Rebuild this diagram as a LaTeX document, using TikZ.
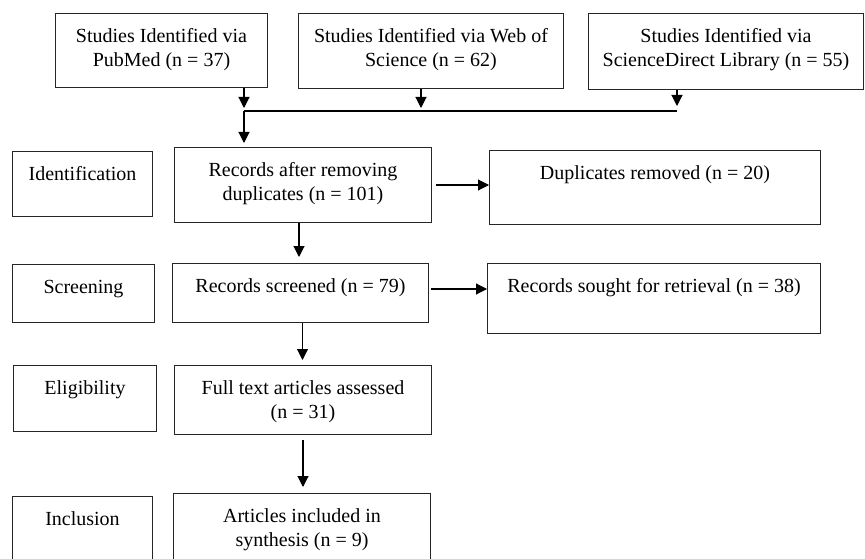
\documentclass[tikz,border=0pt]{standalone}
\usepackage{fontspec}
\setmainfont{Liberation Serif}
\usetikzlibrary{arrows.meta}
\newcommand{\bt}[3]{\parbox[t][#2][t]{#1}{\centering\rule{0pt}{29pt}#3\par}}
\tikzset{
  box/.style={draw=black!85, line width=1pt, inner sep=0pt, anchor=north west},
  conn/.style={draw=black, line width=1.1pt},
  arr/.style={conn, -{Triangle[width=11pt,length=11pt]}}
}
\begin{document}
\begin{tikzpicture}[x=1pt,y=-1pt,font=\fontsize{20}{24}\selectfont]
\clip (0,0) rectangle (865,559);
\fill[white] (0,0) rectangle (865,559);
% top sources
\node[box] (pub) at (55,13) {\bt{212pt}{74pt}{Studies Identified via\\PubMed (n = 37)}};
\node[box] (wos) at (298,13) {\bt{265pt}{75pt}{Studies Identified via Web of\\Science (n = 62)}};
\node[box] (sd) at (588,13) {\bt{275pt}{76pt}{Studies Identified via\\ScienceDirect Library (n = 55)}};
% stage labels
\node[box] (idf) at (12,151) {\bt{140pt}{65pt}{Identification}};
\node[box] (scr) at (12,264) {\bt{142pt}{58pt}{Screening}};
\node[box] (eli) at (13,365) {\bt{143pt}{66pt}{Eligibility}};
\node[box] (inc) at (12,496) {\bt{140pt}{80pt}{Inclusion}};
% main column
\node[box] (rec) at (174,147) {\bt{257pt}{75pt}{Records after removing\\duplicates (n = 101)}};
\node[box] (rs) at (172,263) {\bt{256pt}{59pt}{Records screened (n = 79)}};
\node[box] (ft) at (174,365) {\bt{257pt}{69pt}{Full text articles assessed\\(n = 31)}};
\node[box] (art) at (173,493) {\bt{257pt}{80pt}{Articles included in\\synthesis (n = 9)}};
% side column
\node[box] (dup) at (489,150) {\bt{331pt}{74pt}{Duplicates removed (n = 20)}};
\node[box] (rsr) at (487,263) {\bt{333pt}{70pt}{Records sought for retrieval (n = 38)}};
% merge connectors
\coordinate (m1) at (244,111);
\coordinate (m2) at (421,111);
\coordinate (m3) at (677,111);
\draw[arr, shorten >=3pt] (pub.south -| m1) -- (m1);
\draw[arr, shorten >=3pt] (wos.south -| m2) -- (m2);
\draw[arr, shorten >=5pt] (sd.south -| m3) -- (m3);
\draw[conn] (m1) -- (m3);
\draw[arr, shorten >=4pt] (m1) -- (m1 |- rec.north);
% flow
\draw[arr, shorten <=4pt] (rec.east) -- (rec.east -| dup.west);
\draw[arr, shorten >=6pt] ([xshift=-4pt]rec.south) -- ([xshift=-4pt]rec.south |- rs.north);
\draw[arr, shorten <=2pt] ([yshift=4pt]rs.east) -- ([yshift=4pt]rs.east -| rsr.west);
\draw[arr, shorten >=5pt] ([xshift=2pt]rs.south) -- ([xshift=2pt]rs.south |- ft.north);
\draw[arr, shorten <=5pt, shorten >=6pt] (ft.south) -- (ft.south |- art.north);
\end{tikzpicture}
\end{document}
